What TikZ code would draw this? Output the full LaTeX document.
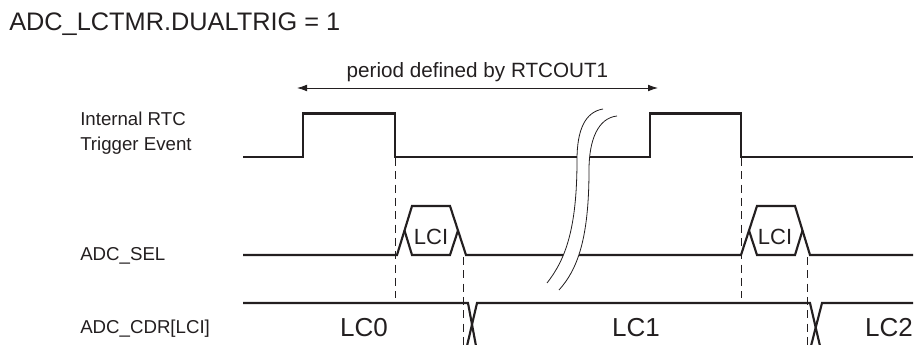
\documentclass[tikz,border=0pt]{standalone}
\usepackage{fontspec}
\setmainfont{Liberation Sans}
\usetikzlibrary{arrows.meta}
\definecolor{ink}{RGB}{35,31,32}

\begin{document}
\begin{tikzpicture}[
  x=0.75pt, y=-0.75pt,
  every node/.style={text=ink, inner sep=0pt},
  wave/.style={ink, line width=1.6pt, line join=miter},
  guide/.style={ink, line width=0.7pt, dash pattern=on 6pt off 4pt},
  lbl/.style={font=\fontsize{14}{17}\selectfont, anchor=base west},
  val/.style={font=\fontsize{19.5}{22}\selectfont, anchor=base},
  sel/.style={font=\fontsize{16.5}{20}\selectfont, anchor=base},
  brk/.style={ink, line width=0.6pt}
]
\useasboundingbox (0,0) rectangle (914,345);

% Title and signal names.
\node[font=\fontsize{19}{22}\selectfont, anchor=base west] (title) at (9,31)
  {ADC\_LCTMR.DUALTRIG = 1};
\node[lbl] (rtcA) at (80,126) {Internal RTC};
\node[lbl] (rtcB) at (80,151) {Trigger Event};
\node[lbl] (selname) at (80,261) {ADC\_SEL};
\node[lbl] (cdrname) at (80,334) {ADC\_CDR[LCI]};

% Period arrow.
\coordinate (perL) at (297,88);
\coordinate (perR) at (658,88);
\draw[ink, line width=0.6pt, {Latex[length=7.5pt,width=5pt]}-{Latex[length=7.5pt,width=5pt]}]
  (perL) -- (perR);
\node[font=\fontsize{15.5}{18}\selectfont, anchor=base] (period) at (477.5,78)
  {period defined by RTCOUT1};

% Internal RTC trigger.
\draw[wave] (243,157) -- (303,157) -- (303,113.5) -- (395,113.5) -- (395,157)
  -- (650,157) -- (650,113.5) -- (741,113.5) -- (741,157) -- (913,157);

% ADC_SEL with the two LCI windows.
\draw[wave] (243,255) -- (397,255) -- (412,206) -- (450,206) -- (466,255)
  -- (741,255) -- (757,206) -- (795,206) -- (810,255) -- (913,255);
\draw[wave] (404.5,230.5) -- (412,255) -- (450,255) -- (458,230.5);
\draw[wave] (749,230.5) -- (757,255) -- (795,255) -- (802.5,230.5);
\node[sel] (lciA) at (431,245) {LCI};
\node[sel] (lciB) at (775,245) {LCI};

% ADC_CDR[LCI] bus.
\draw[wave] (243,303) -- (468,303) -- (476,346);
\draw[wave] (467,346) -- (477,303) -- (810,303) -- (820,346);
\draw[wave] (811,346) -- (822,303) -- (913,303);
\node[val] (lc0) at (364,336) {LC0};
\node[val] (lc1) at (636,336) {LC1};
\node[val] (lc2) at (889,336) {LC2};

% Dashed timing guides.
\draw[guide] (395,158) -- (395,298);
\draw[guide] (463,257) -- (463,346);
\draw[guide] (741,158) -- (741,298);
\draw[guide] (807,257) -- (807,346);

% Time break.
\fill[white] (603,109) .. controls (585,112) and (577,130) .. (577,160)
  .. controls (577,230) and (565,260) .. (547,283) -- (559,290)
  .. controls (577,270) and (589,240) .. (589,170)
  .. controls (589,140) and (598,118) .. (617,116) -- cycle;
\draw[brk] (603,109) .. controls (585,112) and (577,130) .. (577,160)
  .. controls (577,230) and (565,260) .. (547,283);
\draw[brk] (617,116) .. controls (598,118) and (589,140) .. (589,170)
  .. controls (589,240) and (577,270) .. (559,290);
\end{tikzpicture}
\end{document}
